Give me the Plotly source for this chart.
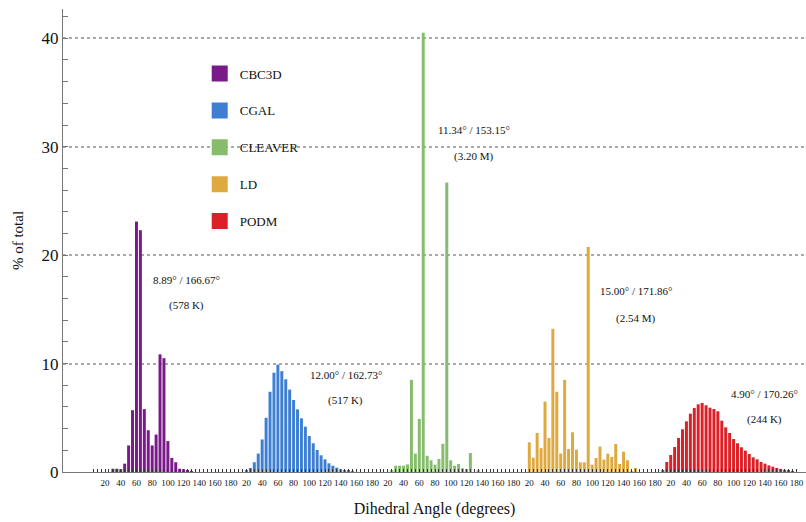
import plotly.graph_objects as go

# ---------------- data ----------------
methods = ["CBC3D", "CGAL", "CLEAVER", "LD", "PODM"]
colors = ["#7a1a8a", "#3f7fd2", "#86bd6c", "#dea93e", "#dc2027"]
bin_starts = list(range(0, 180, 5))  # degrees, 36 bins of 5 degrees

cbc3d = [0, 0, 0, 0, 0, 0, 0.3, 0.3, 0.25, 0.77, 2.45, 5.7, 23.1, 22.3, 5.8, 3.85, 2.45, 3.45,
         10.85, 10.5, 2.85, 1.3, 0.9, 0.3, 0.25, 0.1, 0.05, 0, 0, 0, 0, 0, 0, 0, 0, 0]
cgal = [0, 0, 0, 0, 0.1, 0.37, 0.9, 1.7, 3.0, 5.0, 7.4, 9.16, 9.9, 9.3, 8.55, 7.6, 6.64, 5.78,
        4.95, 4.18, 3.32, 2.65, 2.03, 1.54, 1.17, 0.8, 0.58, 0.4, 0.25, 0.18, 0.12, 0.05, 0, 0, 0, 0]
cleaver = [0, 0, 0, 0, 0, 0.15, 0.58, 0.58, 0.58, 0.7, 8.5, 1.7, 4.9, 40.5, 1.5, 1.08, 0.68, 1.2,
           2.6, 26.7, 1.08, 0.58, 0.74, 0.34, 0.28, 1.75, 0, 0.1, 0, 0, 0, 0, 0, 0, 0, 0]
ld = [0, 0, 0, 0, 2.74, 1.32, 3.6, 2.2, 6.5, 3.14, 13.2, 7.4, 1.7, 8.5, 2.12, 3.66, 2.06, 0.89,
      0.89, 20.75, 0.68, 1.29, 2.34, 1.14, 1.69, 1.38, 2.58, 0.74, 1.88, 1.08, 0.05, 0.37, 0, 0, 0, 0]
podm = [0, 0, 0.18, 0.92, 1.57, 2.3, 3.14, 3.94, 4.67, 5.38, 5.9, 6.24, 6.37, 6.15, 5.93, 5.81, 5.6, 4.73,
        4.12, 3.6, 3.04, 2.65, 2.28, 1.97, 1.66, 1.35, 1.17, 0.92, 0.77, 0.61, 0.49, 0.37, 0.28, 0.2, 0.12, 0.05]
series = [cbc3d, cgal, cleaver, ld, podm]

angle_labels = ["20", "40", "60", "80", "100", "120", "140", "160", "180"]
angle_label_vals = [20, 40, 60, 80, 100, 120, 140, 160, 180]

min_max_text = ["8.89° / 166.67°", "12.00° / 162.73°", "11.34° / 153.15°", "15.00° / 171.86°", "4.90° / 170.26°"]
count_text = ["(578 K)", "(517 K)", "(3.20 M)", "(2.54 M)", "(244 K)"]
# annotation anchor (angle within group, % for first line, % for second line)
ann_angle = [124, 146.5, 129.6, 155.8, 139]
ann_y1 = [17.7, 8.95, 31.5, 16.7, 7.2]
ann_y2 = [15.4, 6.55, 29.1, 14.2, 4.8]

GROUP = 180
FONT = "Liberation Serif"

fig = go.Figure()

for g, (name, col, vals) in enumerate(zip(methods, colors, series)):
    fig.add_trace(go.Bar(
        x=[g * GROUP + b for b in bin_starts], y=vals, width=3.8,
        marker=dict(color=col, line=dict(width=0)),
        showlegend=False, name=name,
    ))

for g, (name, col) in enumerate(zip(methods, colors)):
    fig.add_trace(go.Scatter(
        x=[None], y=[None], mode="markers", name=name, legendgroup=name,
        marker=dict(symbol="square", size=16, color=col),
    ))

for g in range(len(methods)):
    fig.add_annotation(x=g * GROUP + ann_angle[g], y=ann_y1[g], text=min_max_text[g],
                       showarrow=False, font=dict(family=FONT, size=11, color="#111"))
    fig.add_annotation(x=g * GROUP + ann_angle[g], y=ann_y2[g], text=count_text[g],
                       showarrow=False, font=dict(family=FONT, size=11, color="#111"))

tickvals = [g * GROUP + v for g in range(len(methods)) for v in angle_label_vals]
ticktext = [t for g in range(len(methods)) for t in angle_labels]
minor_vals = [g * GROUP + b for g in range(len(methods)) for b in bin_starts[1:]]
boundary_vals = [g * GROUP for g in range(1, len(methods) + 1)]

fig.update_layout(
    width=806, height=522,
    margin=dict(l=63, r=0, t=9, b=50),
    paper_bgcolor="white", plot_bgcolor="white",
    barmode="overlay",
    font=dict(family=FONT, color="#111"),
    xaxis=dict(
        range=[-33.5, 912.2], tickmode="array", tickvals=tickvals, ticktext=ticktext,
        tickangle=0, automargin=False, ticklabelstandoff=2,
        ticks="inside", ticklen=3, tickcolor="#333", tickwidth=1,
        tickfont=dict(family=FONT, size=9, color="#111"),
        showline=True, linecolor="#777", linewidth=1, showgrid=False, zeroline=False,
        minor=dict(tickmode="array", tickvals=minor_vals, ticks="inside", ticklen=3,
                   tickcolor="#333", tickwidth=1, showgrid=False),
        title=dict(text="Dihedral Angle (degrees)", font=dict(family=FONT, size=16, color="#111"), standoff=16),
    ),
    xaxis2=dict(
        overlaying="x", matches="x", anchor="y", side="bottom", showline=False, automargin=False,
        showgrid=False, zeroline=False, tickmode="array", tickvals=boundary_vals,
        ticks="inside", ticklen=7, tickcolor="#333", showticklabels=False,
    ),
    yaxis=dict(
        range=[0, 42.7], tickmode="array", tickvals=[0, 10, 20, 30, 40], automargin=False,
        ticks="inside", ticklen=5, tickcolor="#777",
        tickfont=dict(family=FONT, size=17, color="#111"),
        showline=True, linecolor="#777", linewidth=1,
        showgrid=True, gridcolor="#aaaaaa", gridwidth=2, griddash="3px,3px",
        zeroline=False,
        minor=dict(tickmode="array", tickvals=[2, 4, 6, 8, 12, 14, 16, 18, 22, 24, 26, 28, 32, 34, 36, 38, 42],
                   ticks="inside", ticklen=5, tickcolor="#777", showgrid=False),
        title=dict(text="% of total", font=dict(family=FONT, size=15, color="#111"), standoff=14),
    ),
    legend=dict(x=0.184, y=0.893, xanchor="left", yanchor="top", bgcolor="rgba(0,0,0,0)",
                font=dict(family=FONT, size=13, color="#111"), tracegroupgap=17,
                itemsizing="trace"),
)

# remove the default 8px page margin so the 806x522 figure fills the window exactly
fig.write_html("out.html", config={"displayModeBar": False},
               post_script="document.body.style.margin='0';")
